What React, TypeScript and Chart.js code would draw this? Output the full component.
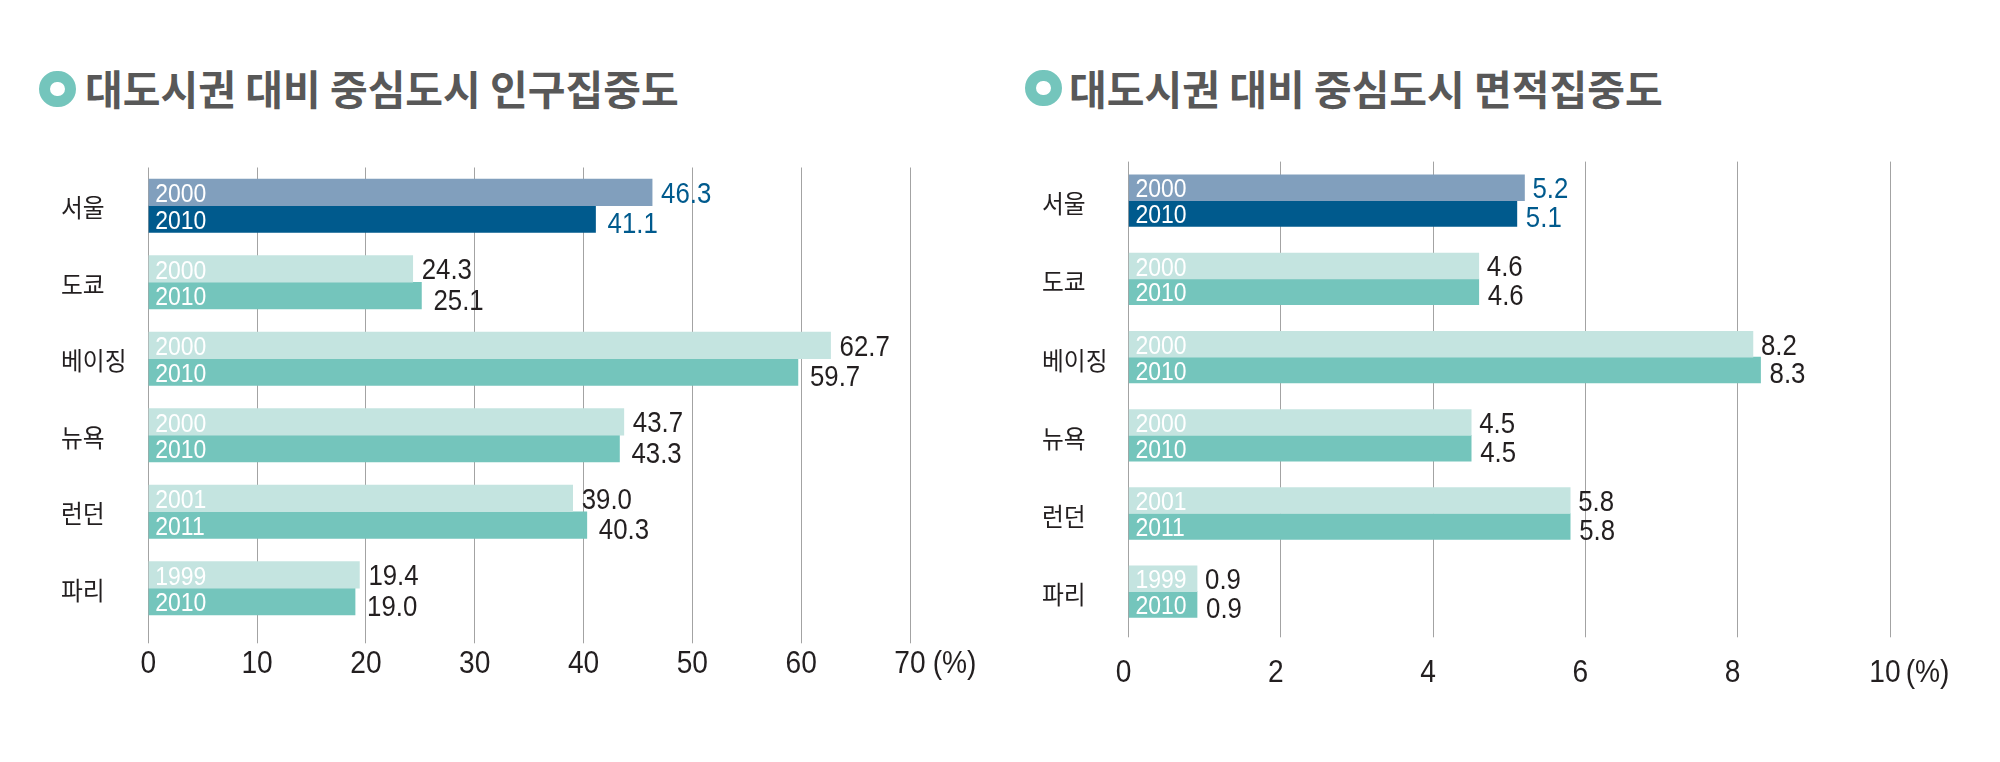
import React, { useEffect, useRef } from "react";
import { Chart, registerables } from "chart.js";

Chart.register(...registerables);

// ---------------- data ----------------
const categories = ["서울", "도쿄", "베이징", "뉴욕", "런던", "파리"];
const yearsFirst = ["2000", "2000", "2000", "2000", "2001", "1999"];
const yearsSecond = ["2010", "2010", "2010", "2010", "2011", "2010"];

const popFirst = [46.3, 24.3, 62.7, 43.7, 39.0, 19.4];
const popSecond = [41.1, 25.1, 59.7, 43.3, 40.3, 19.0];

const areaFirst = [5.2, 4.6, 8.2, 4.5, 5.8, 0.9];
const areaSecond = [5.1, 4.6, 8.3, 4.5, 5.8, 0.9];

const popAxis = { min: 0, max: 70, step: 10 };
const areaAxis = { min: 0, max: 10, step: 2 };
const unitLabel = "(%)";

const titlePop = "대도시권 대비 중심도시 인구집중도";
const titleArea = "대도시권 대비 중심도시 면적집중도";

const highlightIndex = 0; // 서울

// ---------------- styles ----------------
const COLORS = {
  hiFirst: "#819fbd",
  hiSecond: "#005a8d",
  first: "#c4e4e0",
  second: "#74c5bc",
  grid: "#a3a3a3",
  text: "#231f20",
  hiText: "#005a8d",
  title: "#585858",
  icon: "#74c5bc",
};

const NUM_FONT = '"Liberation Sans", Arial, sans-serif';
const KR_FONT = '"Noto Sans CJK KR", "Noto Sans", sans-serif';

type Geom = {
  canvasLeft: number;
  areaLeft: number;
  areaRight: number;
  areaTop: number;
  areaBottom: number;
  tickLength: number;
  barThickness: number;
  labelX: number;
  catDy: number;
  tickBaseline: number;
  tickShift: number;
  unitGap: number;
  gapA: number;
  gapB: number;
  dyA: number;
  dyB: number;
};

const leftGeom: Geom = {
  canvasLeft: 0,
  areaLeft: 148.3,
  areaRight: 910,
  areaTop: 167.5,
  areaBottom: 626.5,
  tickLength: 16.8,
  barThickness: 26.6,
  labelX: 61,
  catDy: 2,
  tickBaseline: 672.7,
  tickShift: 0,
  unitGap: 7,
  gapA: 9,
  gapB: 12,
  dyA: 0,
  dyB: 4,
};

const rightGeom: Geom = {
  canvasLeft: 1000,
  areaLeft: 1128.5,
  areaRight: 1890,
  areaTop: 161.6,
  areaBottom: 630.8,
  tickLength: 6.5,
  barThickness: 25.8,
  labelX: 1042,
  catDy: 3,
  tickBaseline: 681.7,
  tickShift: -5,
  unitGap: 5,
  gapA: 8,
  gapB: 9,
  dyA: 0,
  dyB: 3,
};

function drawText(
  ctx: CanvasRenderingContext2D,
  text: string,
  x: number,
  y: number,
  font: string,
  color: string,
  align: CanvasTextAlign,
  sx: number,
  baseline: CanvasTextBaseline = "alphabetic"
) {
  ctx.save();
  ctx.font = font;
  ctx.fillStyle = color;
  ctx.textAlign = align;
  ctx.textBaseline = baseline;
  ctx.translate(x, y);
  ctx.scale(sx, 1);
  ctx.fillText(text, 0, 0);
  ctx.restore();
}

function BarPanel(props: {
  first: number[];
  second: number[];
  axis: { min: number; max: number; step: number };
  geom: Geom;
}) {
  const ref = useRef<HTMLCanvasElement | null>(null);
  const { first, second, axis, geom } = props;

  useEffect(() => {
    const canvas = ref.current;
    if (!canvas) return;
    const W = 1000;
    const H = 762;
    const g = geom;
    const off = g.canvasLeft;

    const labelsPlugin = {
      id: "barLabels",
      afterDatasetsDraw(chart: any) {
        const ctx: CanvasRenderingContext2D = chart.ctx;
        const years = [yearsFirst, yearsSecond];
        [0, 1].forEach((di) => {
          const meta = chart.getDatasetMeta(di);
          const values = chart.data.datasets[di].data as number[];
          meta.data.forEach((bar: any, i: number) => {
            const p = bar.getProps(["x", "y", "base", "height"], true);
            drawText(ctx, years[di][i], p.base + 6.5, p.y + 9.6, `25.5px ${NUM_FONT}`, "#ffffff", "left", 0.9);
            const gap = di === 0 ? g.gapA : g.gapB;
            const dy = di === 0 ? g.dyA : g.dyB;
            const col = i === highlightIndex ? COLORS.hiText : COLORS.text;
            drawText(ctx, values[i].toFixed(1), p.x + gap, p.y + dy + 10.4, `29px ${NUM_FONT}`, col, "left", 0.89);
          });
        });
      },
      afterDraw(chart: any) {
        const ctx: CanvasRenderingContext2D = chart.ctx;
        const xs = chart.scales.x;
        const ys = chart.scales.y;
        categories.forEach((c, i) => {
          const y = ys.getPixelForValue(i);
          drawText(ctx, c, g.labelX - off, y + g.catDy, `25px ${KR_FONT}`, COLORS.text, "left", 0.95, "middle");
        });
        const tickFont = `32px ${NUM_FONT}`;
        const sx = 0.88;
        const n = xs.ticks.length;
        xs.ticks.forEach((t: any, idx: number) => {
          const px = xs.getPixelForValue(t.value) + g.tickShift;
          const txt = String(t.value);
          drawText(ctx, txt, px, g.tickBaseline, tickFont, COLORS.text, "center", sx);
          if (idx === n - 1) {
            ctx.save();
            ctx.font = tickFont;
            const w = ctx.measureText(txt).width * sx;
            ctx.restore();
            drawText(ctx, unitLabel, px + w / 2 + g.unitGap, g.tickBaseline, tickFont, COLORS.text, "left", sx);
          }
        });
      },
    };

    const chart = new Chart(canvas, {
      type: "bar",
      data: {
        labels: categories,
        datasets: [
          {
            label: "first",
            data: first,
            backgroundColor: first.map((_, i) => (i === highlightIndex ? COLORS.hiFirst : COLORS.first)),
            barThickness: g.barThickness,
            borderWidth: 0,
          },
          {
            label: "second",
            data: second,
            backgroundColor: second.map((_, i) => (i === highlightIndex ? COLORS.hiSecond : COLORS.second)),
            barThickness: g.barThickness,
            borderWidth: 0,
          },
        ],
      },
      options: {
        indexAxis: "y",
        responsive: false,
        animation: false,
        devicePixelRatio: 1,
        layout: {
          padding: {
            left: g.areaLeft - off,
            right: off + W - g.areaRight,
            top: g.areaTop,
            bottom: H - g.areaBottom - g.tickLength,
          },
        },
        plugins: {
          legend: { display: false },
          tooltip: { enabled: false },
        },
        scales: {
          x: {
            type: "linear",
            min: axis.min,
            max: axis.max,
            ticks: { display: false, stepSize: axis.step },
            grid: {
              color: COLORS.grid,
              lineWidth: 1,
              drawTicks: true,
              tickLength: g.tickLength,
            },
            border: { display: false },
            afterFit: (scale: any) => {
              scale.height = g.tickLength;
            },
          },
          y: {
            type: "category",
            display: false,
            offset: true,
          },
        },
      },
      plugins: [labelsPlugin],
    } as any);

    return () => chart.destroy();
  }, [first, second, axis, geom]);

  return (
    <canvas
      ref={ref}
      width={1000}
      height={762}
      style={{ position: "absolute", left: geom.canvasLeft, top: 0, width: 1000, height: 762 }}
    />
  );
}

function Heading(props: { text: string; iconX: number; iconY: number; textX: number; textY: number }) {
  const R = 18.3;
  return (
    <>
      <div
        style={{
          position: "absolute",
          left: props.iconX - R,
          top: props.iconY - R,
          width: R * 2,
          height: R * 2,
          boxSizing: "border-box",
          borderRadius: "50%",
          border: `11.5px solid ${COLORS.icon}`,
          background: "#fff",
        }}
      />
      <div
        style={{
          position: "absolute",
          left: props.textX,
          top: props.textY,
          font: `bold 41px ${KR_FONT}`,
          lineHeight: "41px",
          color: COLORS.title,
          whiteSpace: "nowrap",
        }}
      >
        {props.text}
      </div>
    </>
  );
}

export default function App() {
  return (
    <div
      style={{
        position: "absolute",
        left: 0,
        top: 0,
        width: 2000,
        height: 762,
        background: "#ffffff",
        overflow: "hidden",
      }}
    >
      <Heading text={titlePop} iconX={57.7} iconY={88.8} textX={85} textY={67} />
      <Heading text={titleArea} iconX={1043.3} iconY={88} textX={1069} textY={66.5} />
      <BarPanel first={popFirst} second={popSecond} axis={popAxis} geom={leftGeom} />
      <BarPanel first={areaFirst} second={areaSecond} axis={areaAxis} geom={rightGeom} />
    </div>
  );
}
